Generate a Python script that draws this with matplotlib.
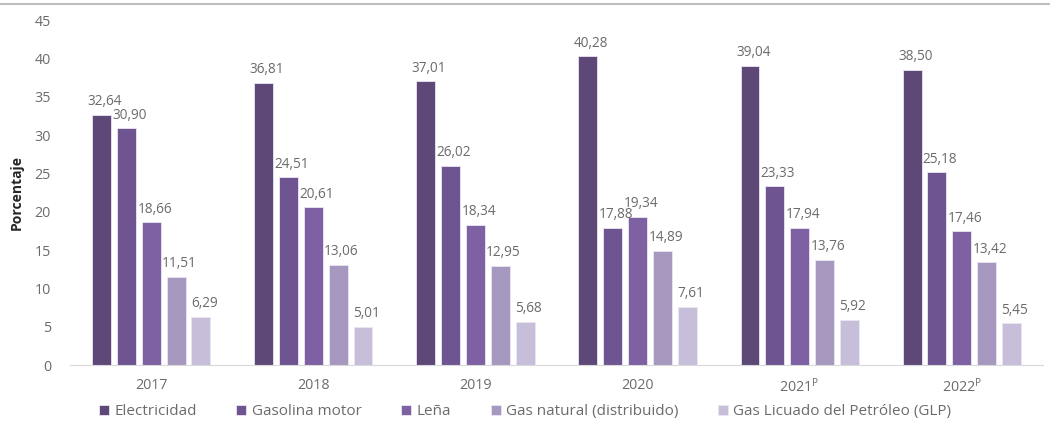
import matplotlib
matplotlib.use("Agg")
import matplotlib.pyplot as plt
import numpy as np
from matplotlib.lines import Line2D

plt.rcParams["font.family"] = ["Open Sans", "DejaVu Sans"]

years = ["2017", "2018", "2019", "2020", "2021$^\\mathregular{P}$", "2022$^\\mathregular{P}$"]
series_names = [
    "Electricidad",
    "Gasolina motor",
    "Leña",
    "Gas natural (distribuido)",
    "Gas Licuado del Petróleo (GLP)",
]
electricidad = [32.64, 36.81, 37.01, 40.28, 39.04, 38.50]
gasolina = [30.90, 24.51, 26.02, 17.88, 23.33, 25.18]
lena = [18.66, 20.61, 18.34, 19.34, 17.94, 17.46]
gas_natural = [11.51, 13.06, 12.95, 14.89, 13.76, 13.42]
glp = [6.29, 5.01, 5.68, 7.61, 5.92, 5.45]

colors = ["#5d4878", "#6e5592", "#7e61a2", "#a798c0", "#c7bed9"]
text_gray = "#6b6b6b"

fig = plt.figure(figsize=(10.5, 4.3), dpi=100)
ax = fig.add_axes([0.067, 0.151, 0.926, 0.802])

x = np.arange(len(years))
width = 0.117
pitch = 0.153
all_series = [electricidad, gasolina, lena, gas_natural, glp]

for i, (name, vals, c) in enumerate(zip(series_names, all_series, colors)):
    pos = x + (i - 2) * pitch
    bars = ax.bar(pos, vals, width, color=c, edgecolor="#ebe6f2", linewidth=0.6, label=name)
    for b, v in zip(bars, vals):
        ax.annotate(f"{v:.2f}".replace(".", ","),
                    (b.get_x() + b.get_width() / 2 + 0.02, v),
                    xytext=(0, 4), textcoords="offset points",
                    ha="center", va="bottom", fontsize=9.8, color=text_gray)

ax.set_xlim(-0.5, len(years) - 0.5)
ax.set_ylim(0, 45)
ax.set_yticks(range(0, 46, 5))
ax.set_xticks(x)
ax.set_xticklabels(years)
ax.tick_params(axis="both", length=0, labelsize=10.3, colors=text_gray)
ax.tick_params(axis="y", pad=14)
ax.tick_params(axis="x", pad=9)
for s in ["top", "right", "left"]:
    ax.spines[s].set_visible(False)
ax.spines["bottom"].set_color("#d9d9d9")
ax.set_ylabel("Porcentaje", fontsize=10, fontweight="bold", color="#262626", labelpad=8)

fig.legend(loc="center", bbox_to_anchor=(0.5, 0.042), ncol=5, frameon=False,
           fontsize=11, handlelength=0.65, handleheight=0.65, handletextpad=0.35,
           columnspacing=2.6, labelcolor=text_gray)

fig.add_artist(Line2D([0, 1], [0.99, 0.99], color="#bdbdbd", linewidth=1.5,
                      transform=fig.transFigure))

fig.savefig("out.png", dpi=100)
